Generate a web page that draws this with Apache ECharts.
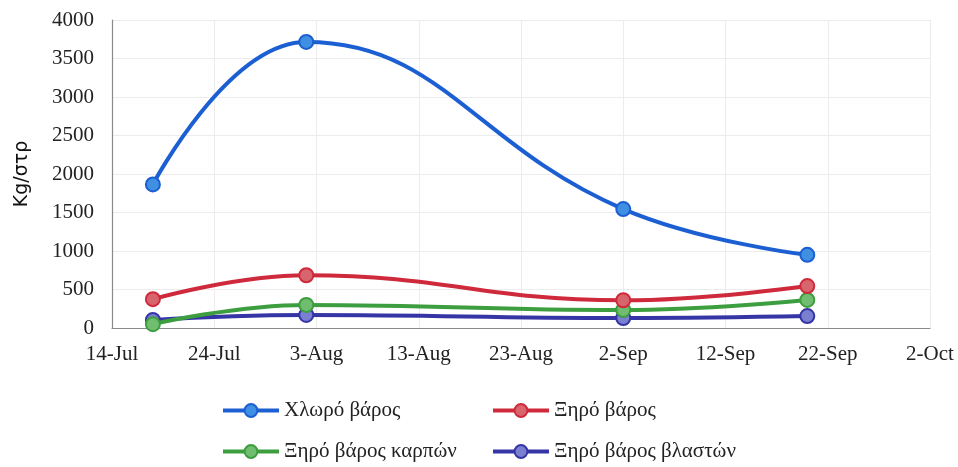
<!DOCTYPE html>
<html>
<head>
<meta charset="utf-8">
<script src="https://cdn.jsdelivr.net/npm/echarts@6/dist/echarts.min.js"></script>
<style>html,body{margin:0;padding:0;background:#fff}#c{width:958px;height:467px}</style>
</head>
<body>
<div id="c"></div>
<script>
var startDate = '2019-07-14';
var sampleDates = ['2019-07-18', '2019-08-02', '2019-09-02', '2019-09-20'];
var seriesNames = ['Χλωρό βάρος', 'Ξηρό βάρος', 'Ξηρό βάρος καρπών', 'Ξηρό βάρος βλαστών'];
var freshWeight = [1865, 3715, 1545, 950];
var dryWeight = [375, 685, 360, 545];
var dryFruit = [50, 300, 235, 365];
var dryShoot = [105, 170, 130, 155];
var yTicks = [0, 500, 1000, 1500, 2000, 2500, 3000, 3500, 4000];
var monthNames = ['Jan','Feb','Mar','Apr','May','Jun','Jul','Aug','Sep','Oct','Nov','Dec'];

var DAY = 86400000;
var t0 = Date.parse(startDate + 'T00:00:00Z');
function offset(d) { return Math.round((Date.parse(d + 'T00:00:00Z') - t0) / DAY); }
function label(v) {
  var d = new Date(t0 + v * DAY);
  return d.getUTCDate() + '-' + monthNames[d.getUTCMonth()];
}
function pairs(vals) { return sampleDates.map(function (d, i) { return [offset(d), vals[i]]; }); }

var styles = [
  { line: '#1c5fd2', fill: '#3f8fe2' },
  { line: '#cf2a3c', fill: '#d8646e' },
  { line: '#3d9e3f', fill: '#70bd70' },
  { line: '#3535a6', fill: '#7a7fcf' }
];
var allVals = [freshWeight, dryWeight, dryFruit, dryShoot];

var legendCommon = {
  orient: 'vertical', top: 400, height: 90, padding: 0, itemGap: 20,
  itemWidth: 56, itemHeight: 16,
  lineStyle: { width: 4 },
  textStyle: { fontFamily: 'Liberation Serif', fontSize: 21, color: '#222' }
};

var chart = echarts.init(document.getElementById('c'));
chart.setOption({
  animation: false,
  backgroundColor: '#fff',
  grid: { left: 112, right: 28, top: 20, bottom: 139, containLabel: false },
  xAxis: {
    type: 'value', min: 0, max: 80, interval: 10,
    axisLine: { show: true, lineStyle: { color: '#8a8a8a', width: 1.2 } },
    axisTick: { show: false },
    splitLine: { show: true, lineStyle: { color: '#ececec' } },
    axisLabel: { formatter: label, margin: 16, color: '#222', fontFamily: 'Liberation Serif', fontSize: 21 }
  },
  yAxis: {
    type: 'value', min: yTicks[0], max: yTicks[yTicks.length - 1], interval: yTicks[1] - yTicks[0],
    name: 'Kg/στρ', nameLocation: 'middle', nameGap: 80, nameRotate: 90,
    nameTextStyle: { fontFamily: 'DejaVu Sans', fontSize: 19, color: '#111' },
    axisLine: { show: true, lineStyle: { color: '#8a8a8a', width: 1.2 } },
    axisTick: { show: false },
    splitLine: { show: true, lineStyle: { color: '#ececec' } },
    axisLabel: { formatter: function (v) { return String(v); }, margin: 18, color: '#222', fontFamily: 'Liberation Serif', fontSize: 21 }
  },
  legend: [
    Object.assign({ data: [seriesNames[0], seriesNames[2]], left: 221 }, legendCommon),
    Object.assign({ data: [seriesNames[1], seriesNames[3]], left: 491 }, legendCommon)
  ],
  series: seriesNames.map(function (n, i) {
    return {
      name: n, type: 'line', smooth: 0.45,
      data: pairs(allVals[i]),
      symbol: 'circle', symbolSize: 14,
      lineStyle: { color: styles[i].line, width: 4 },
      itemStyle: { color: styles[i].fill, borderColor: styles[i].line, borderWidth: 2 },
      z: 10 - i
    };
  })
});
</script>
</body>
</html>
